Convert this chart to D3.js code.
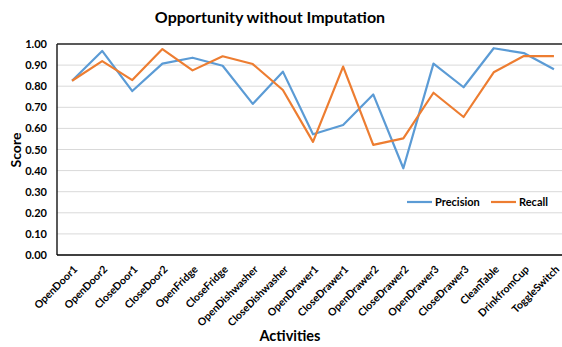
<!DOCTYPE html>
<html>
<head>
<meta charset="utf-8">
<script src="https://cdn.jsdelivr.net/npm/d3@7"></script>
<style>
  html, body { margin: 0; padding: 0; background: #fff; }
  svg { display: block; }
  text { font-family: Lato, "Open Sans", sans-serif; fill: #000; }
</style>
</head>
<body>
<svg id="chart" width="562" height="347"></svg>
<script>
const activities = ["OpenDoor1", "OpenDoor2", "CloseDoor1", "CloseDoor2", "OpenFridge", "CloseFridge",
  "OpenDishwasher", "CloseDishwasher", "OpenDrawer1", "CloseDrawer1", "OpenDrawer2", "CloseDrawer2",
  "OpenDrawer3", "CloseDrawer3", "CleanTable", "DrinkfromCup", "ToggleSwitch"];
const precision = [0.826, 0.967, 0.777, 0.907, 0.935, 0.897, 0.716, 0.869, 0.572, 0.616, 0.761, 0.411,
  0.907, 0.795, 0.980, 0.957, 0.880];
const recall = [0.826, 0.919, 0.829, 0.976, 0.875, 0.942, 0.905, 0.782, 0.536, 0.893, 0.522, 0.553,
  0.769, 0.654, 0.866, 0.943, 0.943];
const yTicks = [0, 0.1, 0.2, 0.3, 0.4, 0.5, 0.6, 0.7, 0.8, 0.9, 1.0];

const svg = d3.select("#chart");
const plotLeft = 57, plotTop = 44, plotBottom = 255, plotRight = 569;

const x = d3.scaleBand().domain(activities).range([plotLeft, plotRight]);
const y = d3.scaleLinear().domain([0, 1]).range([plotBottom, plotTop]);
const cx = d => x(d) + x.bandwidth() / 2;

// gridlines
svg.append("g")
  .selectAll("line").data(yTicks.filter(t => t > 0 && t < 1)).join("line")
  .attr("x1", plotLeft).attr("x2", 562)
  .attr("y1", d => y(d)).attr("y2", d => y(d))
  .attr("stroke", "#d9d9d9").attr("stroke-width", 1);

// y axis labels
const yAxis = svg.append("g").attr("transform", `translate(${plotLeft},0)`)
  .call(d3.axisLeft(y).tickValues(yTicks).tickFormat(d3.format(".2f")).tickSize(0).tickPadding(10));
yAxis.select(".domain").remove();
yAxis.selectAll("text").attr("font-size", 11).attr("font-weight", "bold")
  .attr("font-family", "Lato, sans-serif").attr("fill", "#000");

// plot frame: left, top, bottom
svg.append("line").attr("x1", plotLeft).attr("x2", plotLeft).attr("y1", plotTop).attr("y2", plotBottom)
  .attr("stroke", "#000").attr("stroke-width", 1.3);
svg.append("line").attr("x1", plotLeft).attr("x2", 562).attr("y1", plotTop).attr("y2", plotTop)
  .attr("stroke", "#222").attr("stroke-width", 1.3);
svg.append("line").attr("x1", plotLeft).attr("x2", 562).attr("y1", plotBottom).attr("y2", plotBottom)
  .attr("stroke", "#000").attr("stroke-width", 1.3);

// x axis labels, slanted
const xAxis = svg.append("g").attr("transform", `translate(0,${plotBottom})`)
  .call(d3.axisBottom(x).tickSize(0).tickPadding(0));
xAxis.select(".domain").remove();
xAxis.selectAll("text")
  .attr("font-size", 10.5).attr("font-weight", "bold")
  .attr("font-family", "Lato, sans-serif").attr("fill", "#111")
  .attr("text-anchor", "end")
  .attr("dy", null).attr("y", 0)
  .attr("transform", "translate(6,15) rotate(-45)");

// series lines
const line = d3.line().x((d, i) => cx(activities[i])).y(d => y(d));
svg.append("path").datum(precision).attr("d", line)
  .attr("fill", "none").attr("stroke", "#5B9BD5").attr("stroke-width", 2.2).attr("stroke-linejoin", "round");
svg.append("path").datum(recall).attr("d", line)
  .attr("fill", "none").attr("stroke", "#ED7D31").attr("stroke-width", 2.2).attr("stroke-linejoin", "round");

// legend
const legend = [{ name: "Precision", color: "#5B9BD5", x: 407 }, { name: "Recall", color: "#ED7D31", x: 491 }];
const lg = svg.append("g").selectAll("g").data(legend).join("g");
lg.append("line").attr("x1", d => d.x).attr("x2", d => d.x + 25)
  .attr("y1", 202).attr("y2", 202).attr("stroke", d => d.color).attr("stroke-width", 2.2);
lg.append("text").attr("x", d => d.x + 28).attr("y", 206)
  .attr("font-size", 11).attr("font-weight", "bold").text(d => d.name);

// title and axis titles
svg.append("text").attr("x", 270).attr("y", 23).attr("text-anchor", "middle")
  .attr("font-size", 16).attr("font-weight", "bold").text("Opportunity without Imputation");
svg.append("text").attr("transform", "translate(21,150) rotate(-90)").attr("text-anchor", "middle")
  .attr("font-size", 14).attr("font-weight", "bold").text("Score");
svg.append("text").attr("x", 290).attr("y", 341).attr("text-anchor", "middle")
  .attr("font-size", 14.5).attr("font-weight", "bold").text("Activities");
</script>
</body>
</html>
